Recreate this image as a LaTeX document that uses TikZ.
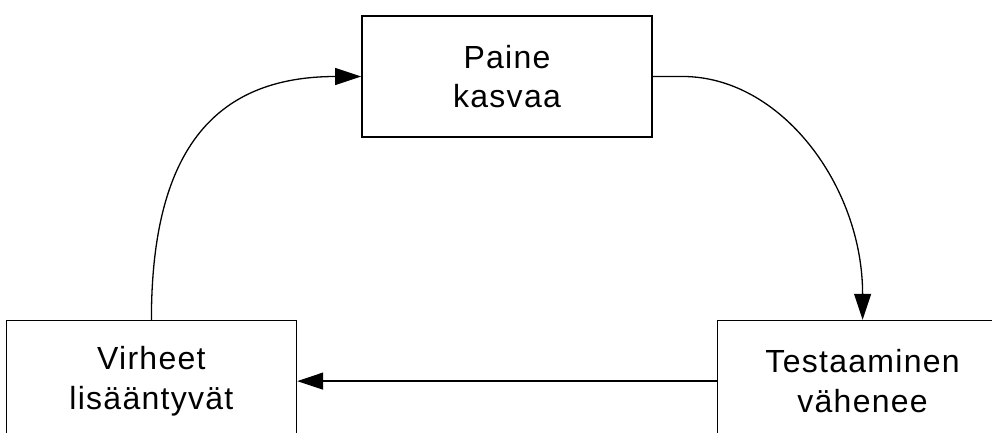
\documentclass[tikz,border=0pt]{standalone}
\usepackage{fontspec}
\setmainfont{Liberation Sans}[LetterSpace=4]
\usepackage{tikz}
\usetikzlibrary{arrows.meta,positioning}

\begin{document}
\begin{tikzpicture}[x=1pt, y=-1pt, node distance=182pt and 64pt]
        \tikzset{box/.style={rectangle, draw, line width=1.6pt, minimum width=290pt, minimum height=121pt, inner sep=0pt, align=center, font=\fontsize{32}{39.5}\selectfont}}
        \tikzset{link/.style={line width=1.3pt, -{Triangle[length=26pt, width=17pt]}}}
        \useasboundingbox (0,0) rectangle (992,433);

        \node [box] (paine) at (507,76.5) {Paine\\kasvaa};
        \node [box, below left=of paine] (virheet) {Virheet\\lisääntyvät};
        \node [box, below right=of paine] (testaus) {Testaaminen\\vähenee};

        \draw [link] (paine.east) -- ++(30,0) .. controls +(98,0) and +(0,-134) .. (testaus.north);
        \draw [link] (testaus.west) -- (virheet.east);
        \draw [link] (virheet.north) .. controls +(0,-165) and +(-150,0) .. (paine.west);
    \end{tikzpicture}
\end{document}
